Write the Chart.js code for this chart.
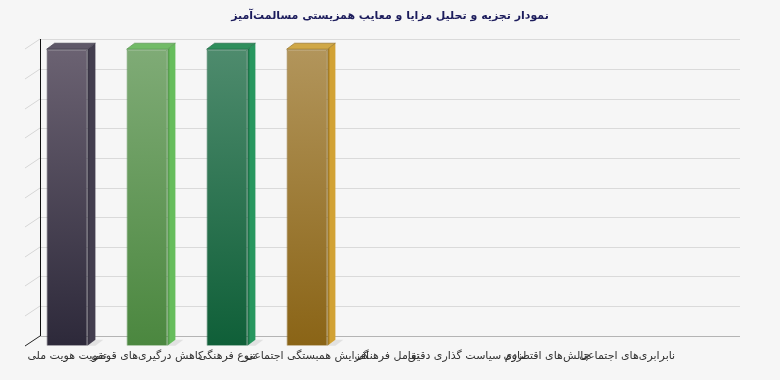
<!DOCTYPE html>
<html>
<head>
<meta charset="utf-8">
<script src="https://cdn.jsdelivr.net/npm/chart.js@4"></script>
<style>
    body { margin: 0; background: #f6f6f6; }
    #chartBox { width: 780px; height: 380px; }
</style>
</head>
<body>
<div id="chartBox"><canvas id="coexistChart"></canvas></div>
<script>
// data
const categories = [
    'تقویت هویت ملی',
    'کاهش درگیری‌های قومی',
    'تنوع فرهنگی',
    'افزایش همبستگی اجتماعی',
    'تعامل فرهنگی',
    'لزوم سیاست گذاری دقیق',
    'چالش‌های اقتصادی',
    'نابرابری‌های اجتماعی',
];
const values = [10, 10, 10, 10, 0, 0, 0, 0];
const yTicks = [0, 1, 2, 3, 4, 5, 6, 7, 8, 9, 10];

// bar colours (front top, front bottom, side, top, edge)
const frontTop = ['#6b6272', '#7fab76', '#4e8b6d', '#b2955b'];
const frontBottom = ['#2d293a', '#4b873f', '#0f5f38', '#8a6416'];
const sideColors = ['#433e4f', '#66bd5c', '#27975f', '#d2a234'];
const topColors = ['#5e5868', '#72bb67', '#2f8f5c', '#d0a847'];
const edgeColors = ['#34303f', '#4f8a46', '#165e3b', '#87641b'];

const WALL_DX = 13; // 뒤쪽 벽 깊이
const WALL_DY = 10;
const BAR_DX = 8;   // 막대 깊이
const BAR_DY = 6;

// 3D 효과 플러그인
const depth3d = {
    id: 'depth3d',
    beforeDatasetsDraw(chart) {
        const { ctx, chartArea: a, scales: { y } } = chart;
        const right = chart.width - 40;
        ctx.save();
        ctx.lineWidth = 1;
        yTicks.forEach((v) => {
            const yf = Math.round(y.getPixelForValue(v));
            const yb = yf - WALL_DY;
            ctx.strokeStyle = v === 0 ? '#b4b4b4' : '#dadada';
            ctx.beginPath();
            ctx.moveTo(a.left + WALL_DX, yb + 0.5);
            ctx.lineTo(right, yb + 0.5);
            ctx.stroke();

            ctx.strokeStyle = v === 0 ? '#222222' : '#d6d6d6';
            ctx.beginPath();
            ctx.moveTo(a.left - 2, yf);
            ctx.lineTo(a.left + WALL_DX, yb);
            ctx.stroke();
        });
        // back wall axis line
        const x0 = a.left + WALL_DX + 0.5;
        ctx.strokeStyle = '#111111';
        ctx.beginPath();
        ctx.moveTo(x0, Math.round(y.getPixelForValue(yTicks[yTicks.length - 1])) - WALL_DY);
        ctx.lineTo(x0, Math.round(y.getPixelForValue(0)) - WALL_DY);
        ctx.stroke();

        // floor shadows
        const meta = chart.getDatasetMeta(0);
        meta.data.forEach((bar, i) => {
            if (!values[i]) return;
            const { x, base, width } = bar.getProps(['x', 'base', 'width'], true);
            const r = x + width / 2;
            ctx.fillStyle = 'rgba(0, 0, 0, 0.08)';
            ctx.beginPath();
            ctx.moveTo(r, base);
            ctx.lineTo(r + BAR_DX, base - BAR_DY);
            ctx.lineTo(r + BAR_DX + 8, base - BAR_DY);
            ctx.lineTo(r + 8, base);
            ctx.closePath();
            ctx.fill();
        });
        ctx.restore();
    },
    afterDatasetsDraw(chart) {
        const { ctx } = chart;
        const meta = chart.getDatasetMeta(0);
        ctx.save();
        meta.data.forEach((bar, i) => {
            if (!values[i]) return;
            const { x, y, base, width } = bar.getProps(['x', 'y', 'base', 'width'], true);
            const l = x - width / 2;
            const r = x + width / 2;

            // side face
            const sideGrad = ctx.createLinearGradient(r, y, r + BAR_DX, y);
            sideGrad.addColorStop(0, edgeColors[i]);
            sideGrad.addColorStop(0.35, sideColors[i]);
            sideGrad.addColorStop(1, sideColors[i]);
            ctx.fillStyle = sideGrad;
            ctx.beginPath();
            ctx.moveTo(r, y);
            ctx.lineTo(r + BAR_DX, y - BAR_DY);
            ctx.lineTo(r + BAR_DX, base - BAR_DY);
            ctx.lineTo(r, base);
            ctx.closePath();
            ctx.fill();

            // top face
            ctx.fillStyle = topColors[i];
            ctx.beginPath();
            ctx.moveTo(l, y);
            ctx.lineTo(l + BAR_DX, y - BAR_DY);
            ctx.lineTo(r + BAR_DX, y - BAR_DY);
            ctx.lineTo(r, y);
            ctx.closePath();
            ctx.fill();
            ctx.strokeStyle = edgeColors[i];
            ctx.lineWidth = 0.6;
            ctx.stroke();
        });
        ctx.restore();
    },
};

function frontFill(context) {
    const i = context.dataIndex;
    const area = context.chart.chartArea;
    if (!area || i >= frontTop.length) return '#888888';
    const g = context.chart.ctx.createLinearGradient(0, area.top, 0, area.bottom);
    g.addColorStop(0, frontTop[i]);
    g.addColorStop(1, frontBottom[i]);
    return g;
}

// 빈 축 (여백용)
function spacerAxis(position, size) {
    return {
        position: position,
        display: true,
        min: 0,
        max: 10,
        grid: { display: false, drawTicks: false },
        border: { display: false },
        ticks: { display: false },
        afterFit: (scale) => { scale.width = size; },
    };
}

document.addEventListener('DOMContentLoaded', () => {
    const canvas = document.getElementById('coexistChart').getContext('2d');

    new Chart(canvas, {
        type: 'bar',
        data: {
            labels: categories,
            datasets: [
                {
                    data: values,
                    yAxisID: 'y',
                    backgroundColor: frontFill,
                    borderColor: (c) => edgeColors[c.dataIndex] || '#555555',
                    borderWidth: 1,
                    categoryPercentage: 1,
                    barPercentage: 0.51,
                },
            ],
        },
        options: {
            responsive: true,
            maintainAspectRatio: false,
            animation: false,
            layout: {
                padding: { left: 0, right: 0, top: 0, bottom: 13 },
            },
            plugins: {
                legend: { display: false },
                tooltip: { enabled: false },
                title: {
                    display: true,
                    text: 'نمودار تجزیه و تحلیل مزایا و معایب همزیستی مسالمت‌آمیز',
                    color: '#1c1c5c',
                    font: { family: 'DejaVu Sans', size: 11, weight: 'bold' },
                    padding: { top: 10, bottom: 26 },
                },
            },
            scales: {
                x: {
                    grid: { display: false, drawTicks: false },
                    border: { display: false },
                    ticks: {
                        autoSkip: false,
                        maxRotation: 0,
                        minRotation: 0,
                        padding: 4,
                        color: '#333333',
                        font: { family: 'DejaVu Sans', size: 11 },
                    },
                },
                y: spacerAxis('left', 27),
                yRight: spacerAxis('right', 113),
            },
        },
        plugins: [depth3d],
    });
});
</script>
</body>
</html>
